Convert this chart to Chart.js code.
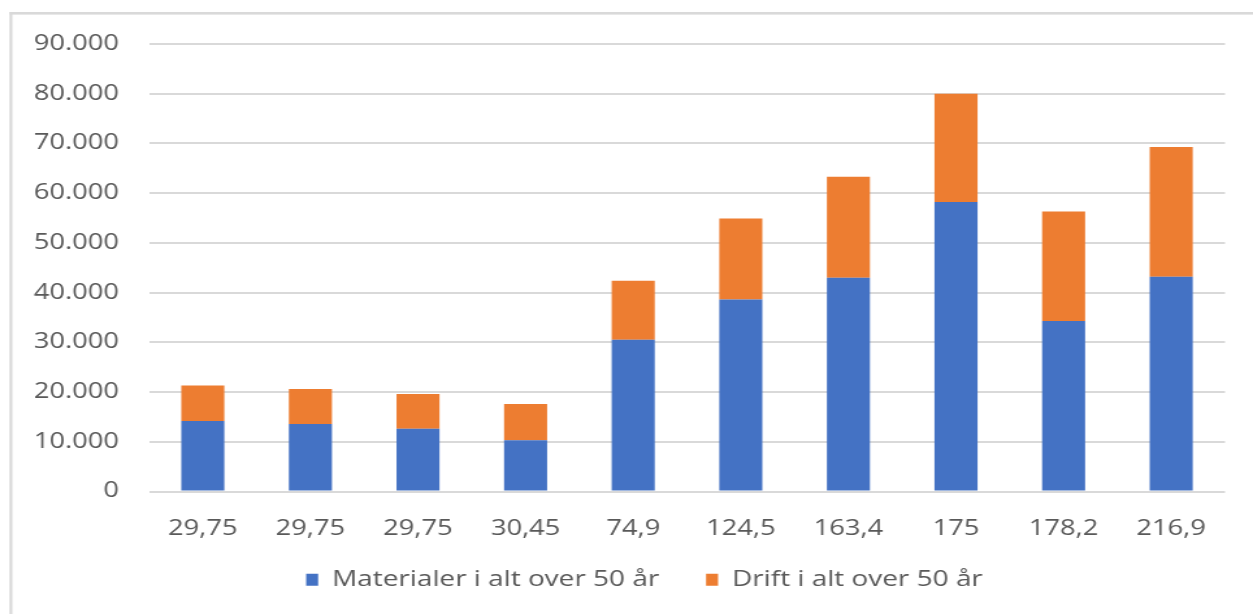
<!DOCTYPE html>
<html>
<head>
<meta charset="utf-8">
<script src="https://cdn.jsdelivr.net/npm/chart.js@4"></script>
<style>
  html, body { margin: 0; padding: 0; background: #ffffff; overflow: hidden; }
  canvas { display: block; }
</style>
</head>
<body>
<!-- drawing surface is 964 px wide, shown 1253 px wide (wide-set lettering) -->
<canvas id="chart" width="964" height="614" style="width:1253px;height:614px"></canvas>
<script>
const categories = ['29,75', '29,75', '29,75', '30,45', '74,9', '124,5', '163,4', '175', '178,2', '216,9'];
const materialer = [14200, 13600, 12600, 10300, 30500, 38600, 43000, 58200, 34300, 43200];
const drift      = [7100, 7000, 7000, 7300, 11900, 16300, 20300, 21800, 22000, 26100];
const seriesNames = ['Materialer i alt over 50 år', 'Drift i alt over 50 år'];
const yMin = 0, yMax = 90000, yStep = 10000;

const CANVAS_W = 964, SHOWN_W = 1253;
const SX = SHOWN_W / CANVAS_W;           // horizontal stretch factor
const FONT = 'Open Sans';
const TEXT = '#595959';

// 90000 -> "90.000"
function thousands(v) {
  return String(Math.round(v)).replace(/\B(?=(\d{3})+(?!\d))/g, '.');
}

// white background plus the thin grey frame along the top and left edges
const framePlugin = {
  id: 'frame',
  beforeDraw(chart) {
    const ctx = chart.ctx;
    ctx.save();
    ctx.fillStyle = '#ffffff';
    ctx.fillRect(0, 0, chart.width, chart.height);
    ctx.fillStyle = '#d9d9d9';
    ctx.fillRect(9.5 / SX, 12, 2.8 / SX, chart.height);
    ctx.fillRect(9.5 / SX, 12, chart.width, 2.6);
    ctx.restore();
  }
};

// legend is centred on the whole frame, not on the plot: nudge it after layout
const legendOffset = { dx: 24.6, dy: -6.5 };
const legendShiftPlugin = {
  id: 'legendShift',
  afterLayout(chart) {
    const lg = chart.legend;
    if (!lg) return;
    lg.left += legendOffset.dx;
    lg.right += legendOffset.dx;
    lg.top += legendOffset.dy;
    lg.bottom += legendOffset.dy;
  }
};

const PLOT_LEFT = 149 / SX;

new Chart(document.getElementById('chart'), {
  type: 'bar',
  data: {
    labels: categories,
    datasets: [
      { label: seriesNames[0], data: materialer, backgroundColor: '#4472C4', borderWidth: 0 },
      { label: seriesNames[1], data: drift, backgroundColor: '#ED7D31', borderWidth: 0 }
    ]
  },
  options: {
    responsive: false,
    animation: false,
    devicePixelRatio: 1,
    categoryPercentage: 1,
    barPercentage: 0.4,
    layout: { padding: { left: 0, right: CANVAS_W - 1225 / SX, top: 44, bottom: 7 } },
    plugins: {
      tooltip: { enabled: false },
      legend: {
        position: 'bottom',
        labels: {
          color: TEXT,
          font: { family: FONT, size: 21.5 },
          boxWidth: 12 / SX,
          boxHeight: 12,
          padding: 36
        }
      }
    },
    scales: {
      x: {
        stacked: true,
        grid: { display: false },
        border: { display: false },
        ticks: {
          color: TEXT,
          font: { family: FONT, size: 21 },
          padding: 17,
          maxRotation: 0,
          autoSkip: false
        },
        afterFit(scale) { scale.height = 48; }
      },
      y: {
        stacked: true,
        min: yMin,
        max: yMax,
        grid: { color: '#d9d9d9', lineWidth: 2, drawTicks: false },
        border: { display: false },
        ticks: {
          stepSize: yStep,
          color: TEXT,
          font: { family: FONT, size: 21 },
          padding: (149 - 119) / SX,
          callback: (v) => thousands(v)
        },
        afterFit(scale) { scale.width = PLOT_LEFT; }
      }
    }
  },
  plugins: [framePlugin, legendShiftPlugin]
});
</script>
</body>
</html>
